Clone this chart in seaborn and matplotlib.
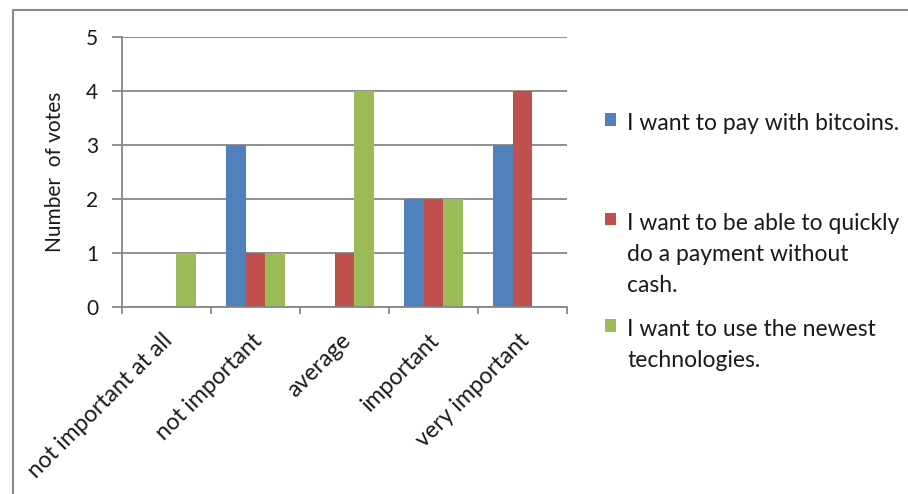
import matplotlib
matplotlib.use("Agg")
import matplotlib.pyplot as plt
import matplotlib.transforms as mtransforms
from matplotlib.lines import Line2D
import seaborn as sns
import pandas as pd

categories = ["not important at all", "not important", "average", "important", "very important"]
series_names = ["I want to pay with bitcoins.",
                "I want to be able to quickly\ndo a payment without\ncash.",
                "I want to use the newest\ntechnologies."]
bitcoins = [0, 3, 0, 2, 3]
quick_pay = [0, 1, 1, 2, 4]
newest_tech = [1, 1, 4, 2, 0]
colors = ["#4F81BD", "#C0504D", "#9BBB59"]
y_ticks = [0, 1, 2, 3, 4, 5]

rows = []
for name, vals in zip(series_names, [bitcoins, quick_pay, newest_tech]):
    for c, v in zip(categories, vals):
        rows.append({"category": c, "series": name, "votes": v})
df = pd.DataFrame(rows)

sns.set_style("white")
FONT = ["Lato", "DejaVu Sans"]
plt.rcParams["font.family"] = FONT
TXT = "#1a1a1a"
GRID = "#878787"

fig = plt.figure(figsize=(9.08, 4.94), dpi=100)
W, H = 908, 494
ax = fig.add_axes([122 / W, (H - 307) / H, (567 - 122) / W, 270 / H])

sns.barplot(data=df, x="category", y="votes", hue="series", order=categories,
            hue_order=series_names, palette=colors, width=0.66, saturation=1,
            ax=ax, legend=True, linewidth=0)

ax.set_ylim(0, 5)
ax.set_xlim(-0.5, 4.5)
ax.set_yticks(y_ticks)
ax.set_yticklabels([str(t) for t in y_ticks], fontsize=15, color=TXT)
ax.set_axisbelow(True)
ax.yaxis.grid(True, color=GRID, linewidth=1.3)
ax.xaxis.grid(False)
for s in ["top", "right"]:
    ax.spines[s].set_visible(False)
for s in ["left", "bottom"]:
    ax.spines[s].set_color(GRID)
    ax.spines[s].set_linewidth(1.3)
ax.tick_params(axis="y", which="major", length=7, width=1.3, color=GRID, direction="out", pad=10, left=True)
ax.set_xticks(range(len(categories)))
ax.set_xticks([i - 0.5 for i in range(len(categories) + 1)], minor=True)
ax.tick_params(axis="x", which="major", length=0, pad=0)
ax.tick_params(axis="x", which="minor", length=5, width=1.3, color=GRID, direction="out", bottom=True)
ax.set_xticklabels(categories, rotation=45, ha="right", va="center", rotation_mode="anchor",
                   fontsize=16.7, color=TXT)
offset = mtransforms.ScaledTranslation(3 / 100, -30 / 100, fig.dpi_scale_trans)
for lab in ax.get_xticklabels():
    lab.set_transform(lab.get_transform() + offset)
ax.set_xlabel("")
ax.set_ylabel("Number  of votes", fontsize=15, color=TXT, labelpad=15)

leg = ax.legend(loc="upper left", bbox_to_anchor=(605 / W, (H - 113) / H),
                bbox_transform=fig.transFigure, frameon=False, fontsize=16.5,
                handlelength=0.48, handleheight=0.48, handletextpad=0.5,
                labelspacing=1.0, borderpad=0, borderaxespad=0)
texts = leg.get_texts()
texts[0].set_text(series_names[0] + "\n \n ")
for t in texts:
    t.set_color(TXT)
    t.set_linespacing(1.6)
texts[0].set_linespacing(1.4)
for col in leg._legend_handle_box.get_children():
    for item in col.get_children():
        item.align = "top"

fig.add_artist(Line2D([13 / W, 13 / W], [0, (H - 10) / H], color="#8a8a8a", linewidth=1.5,
                      transform=fig.transFigure))
fig.add_artist(Line2D([13 / W, 1], [(H - 10) / H, (H - 10) / H], color="#8a8a8a", linewidth=1.5,
                      transform=fig.transFigure))

fig.savefig("out.png", dpi=100)
